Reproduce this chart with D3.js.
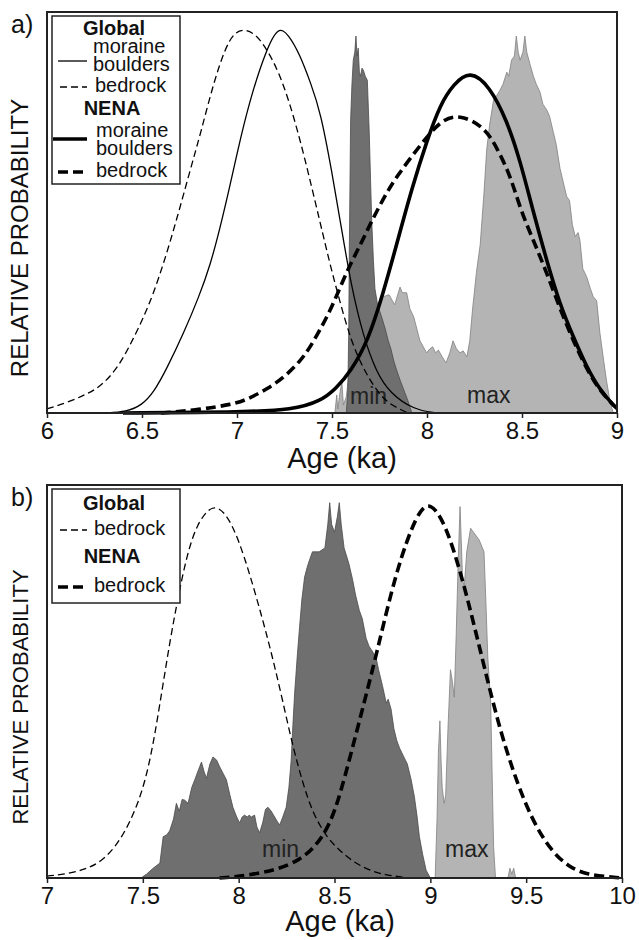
<!DOCTYPE html>
<html>
<head>
<meta charset="utf-8">
<script src="https://cdn.jsdelivr.net/npm/d3@7"></script>
<style>
  body { margin: 0; background: #fff; }
  svg { display: block; font-family: "Liberation Sans", Arial, Helvetica, sans-serif; }
</style>
</head>
<body>
<svg id="chart" width="639" height="940"></svg>
<script>
// ---- panel a) : age (ka) vs relative probability ----
const ticksA = [6, 6.5, 7, 7.5, 8, 8.5, 9];

// Global moraine boulders (thin solid)
const aGlobalBoulders = [[6.3,0],[6.42,0.003],[6.5,0.02],[6.56,0.05],[6.63,0.11],[6.72,0.2],[6.8,0.29],[6.86,0.37],
  [6.91,0.46],[6.96,0.56],[7.02,0.69],[7.08,0.8],[7.15,0.9],[7.215,0.965],[7.27,0.945],[7.33,0.895],[7.39,0.82],
  [7.44,0.75],[7.5,0.6],[7.55,0.46],[7.6,0.32],[7.665,0.19],[7.735,0.1],[7.805,0.05],[7.93,0.008],[8.05,0]];
// Global bedrock (thin dashed)
const aGlobalBedrock = [[6.0,0.01],[6.1,0.025],[6.2,0.045],[6.28,0.065],[6.37,0.11],[6.45,0.18],[6.56,0.29],
  [6.67,0.46],[6.75,0.6],[6.81,0.7],[6.88,0.83],[6.96,0.94],[7.03,0.96],[7.1,0.945],[7.16,0.905],[7.22,0.85],
  [7.28,0.77],[7.35,0.65],[7.44,0.47],[7.49,0.37],[7.54,0.28],[7.6,0.18],[7.665,0.11],[7.735,0.055],[7.8,0.022],[7.9,0]];
// NENA moraine boulders (thick solid)
const aNenaBoulders = [[6.4,0],[7.0,0.002],[7.3,0.008],[7.44,0.03],[7.52,0.06],[7.6,0.105],[7.69,0.18],[7.77,0.3],
  [7.84,0.42],[7.92,0.56],[8.0,0.68],[8.07,0.77],[8.14,0.82],[8.226,0.855],[8.33,0.815],[8.42,0.73],[8.49,0.63],
  [8.56,0.5],[8.63,0.38],[8.7,0.27],[8.77,0.19],[8.84,0.115],[8.91,0.057],[8.99,0.015],[9.0,0.012]];
// NENA bedrock (thick dashed)
const aNenaBedrock = [[6.6,0],[6.8,0.008],[6.98,0.022],[7.05,0.033],[7.16,0.06],[7.25,0.09],[7.33,0.128],[7.38,0.16],
  [7.44,0.21],[7.49,0.255],[7.54,0.31],[7.595,0.37],[7.65,0.42],[7.7,0.47],[7.77,0.535],[7.84,0.59],[7.96,0.665],
  [8.07,0.73],[8.17,0.745],[8.3,0.715],[8.37,0.66],[8.44,0.59],[8.49,0.51],[8.56,0.43],
  [8.63,0.35],[8.7,0.26],[8.77,0.18],[8.84,0.11],[8.91,0.055],[8.99,0.015],[9.0,0.012]];
// minimum-age distribution (dark grey)
const aMin = [[7.575,0],[7.583,0.05],[7.588,0.2],[7.591,0.4],[7.598,0.73],[7.605,0.82],[7.612,0.88],[7.62,0.9],
  [7.626,0.94],[7.632,0.89],[7.638,0.91],[7.644,0.85],[7.65,0.84],[7.658,0.86],[7.665,0.855],[7.675,0.84],
  [7.686,0.83],[7.696,0.7],[7.703,0.58],[7.709,0.48],[7.718,0.38],[7.726,0.31],[7.74,0.27],[7.761,0.24],
  [7.78,0.21],[7.796,0.18],[7.81,0.16],[7.825,0.13],[7.84,0.107],[7.86,0.08],[7.884,0.05],[7.9,0.03],[7.92,0]];
// maximum-age distribution (light grey)
const aMax = [[7.49,0],[7.515,0],[7.525,0.045],[7.53,0.01],[7.545,0.06],[7.552,0.075],[7.56,0.02],[7.575,0.04],
  [7.59,0.1],[7.62,0.2],[7.66,0.24],[7.7,0.26],[7.74,0.27],[7.77,0.29],[7.8,0.295],[7.83,0.27],[7.858,0.314],
  [7.87,0.3],[7.893,0.3],[7.91,0.26],[7.93,0.24],[7.963,0.18],[7.998,0.15],[8.015,0.16],[8.03,0.165],[8.045,0.15],
  [8.06,0.157],[8.08,0.14],[8.1,0.125],[8.12,0.15],[8.137,0.18],[8.155,0.16],[8.174,0.15],[8.19,0.155],[8.21,0.14],
  [8.225,0.18],[8.24,0.26],[8.26,0.35],[8.28,0.42],[8.3,0.55],[8.314,0.656],[8.33,0.72],[8.35,0.78],[8.365,0.79],
  [8.384,0.805],[8.4,0.82],[8.42,0.85],[8.43,0.84],[8.445,0.88],[8.46,0.89],[8.47,0.94],[8.48,0.9],[8.49,0.88],
  [8.505,0.9],[8.515,0.94],[8.525,0.9],[8.542,0.87],[8.56,0.84],[8.575,0.82],[8.595,0.8],[8.61,0.77],[8.63,0.756],
  [8.645,0.74],[8.665,0.7],[8.68,0.67],[8.7,0.61],[8.72,0.57],[8.735,0.54],[8.75,0.53],[8.765,0.47],[8.78,0.44],
  [8.795,0.45],[8.805,0.43],[8.82,0.36],[8.84,0.34],[8.86,0.31],[8.875,0.29],[8.893,0.28],[8.91,0.2],[8.93,0.13],
  [8.945,0.08],[8.963,0.03],[8.98,0]];

// ---- panel b) ----
const ticksB = [7, 7.5, 8, 8.5, 9, 9.5, 10];

const bGlobalBedrock = [[7.0,0.005],[7.1,0.01],[7.2,0.022],[7.28,0.04],[7.38,0.09],[7.48,0.19],[7.54,0.3],[7.59,0.445],
  [7.64,0.6],[7.69,0.73],[7.73,0.82],[7.78,0.9],[7.865,0.955],[7.94,0.925],[8.0,0.86],[8.057,0.775],[8.127,0.655],
  [8.18,0.555],[8.23,0.45],[8.28,0.34],[8.335,0.24],[8.387,0.165],[8.457,0.105],[8.526,0.07],[8.6,0.04],[8.7,0.015],
  [8.8,0.005],[8.9,0]];
const bNenaBedrock = [[7.9,0],[8.0,0.003],[8.2,0.02],[8.32,0.046],[8.4,0.08],[8.47,0.13],[8.53,0.21],[8.63,0.4],
  [8.72,0.57],[8.82,0.78],[8.93,0.93],[9.0,0.96],[9.08,0.9],[9.17,0.76],[9.27,0.56],[9.36,0.38],[9.46,0.23],
  [9.55,0.13],[9.64,0.064],[9.72,0.03],[9.81,0.008],[10.0,0]];
const bMin = [[7.49,0],[7.52,0.01],[7.554,0.025],[7.589,0.038],[7.606,0.105],[7.625,0.11],[7.64,0.12],[7.66,0.15],
  [7.675,0.19],[7.69,0.17],[7.705,0.2],[7.719,0.198],[7.736,0.19],[7.755,0.23],[7.771,0.25],[7.79,0.275],[7.806,0.295],
  [7.82,0.27],[7.832,0.254],[7.85,0.29],[7.866,0.308],[7.885,0.3],[7.901,0.283],[7.92,0.265],[7.936,0.25],[7.955,0.21],
  [7.97,0.18],[7.99,0.155],[8.005,0.14],[8.018,0.155],[8.031,0.16],[8.045,0.155],[8.055,0.16],[8.066,0.155],[8.083,0.16],
  [8.095,0.13],[8.109,0.115],[8.125,0.14],[8.14,0.175],[8.153,0.18],[8.17,0.17],[8.188,0.155],[8.2,0.145],[8.214,0.135],
  [8.23,0.155],[8.248,0.18],[8.262,0.23],[8.274,0.3],[8.283,0.39],[8.292,0.47],[8.305,0.56],[8.318,0.64],[8.33,0.71],
  [8.344,0.766],[8.357,0.79],[8.37,0.81],[8.385,0.83],[8.42,0.83],[8.45,0.84],[8.465,0.9],[8.475,0.955],[8.485,0.9],
  [8.5,0.88],[8.515,0.92],[8.525,0.955],[8.535,0.9],[8.55,0.84],[8.575,0.8],[8.594,0.76],[8.61,0.72],[8.63,0.68],
  [8.645,0.66],[8.665,0.61],[8.68,0.59],[8.7,0.575],[8.717,0.56],[8.73,0.53],[8.75,0.49],[8.77,0.445],[8.78,0.455],
  [8.795,0.43],[8.81,0.38],[8.825,0.35],[8.84,0.33],[8.86,0.31],[8.88,0.29],[8.9,0.25],[8.917,0.206],[8.93,0.16],
  [8.943,0.105],[8.96,0.06],[8.978,0.02],[9.0,0]];
const bMax = [[9.025,0],[9.035,0.15],[9.042,0.32],[9.05,0.4],[9.056,0.3],[9.062,0.23],[9.072,0.19],[9.08,0.21],
  [9.092,0.38],[9.105,0.53],[9.115,0.5],[9.125,0.46],[9.135,0.62],[9.145,0.8],[9.155,0.945],[9.162,0.85],
  [9.168,0.76],[9.177,0.74],[9.19,0.83],[9.21,0.89],[9.225,0.88],[9.24,0.87],[9.255,0.86],[9.28,0.83],[9.29,0.7],
  [9.3,0.56],[9.315,0.445],[9.325,0.2],[9.33,0.08],[9.34,0]];
const bMaxBlip = [[9.405,0],[9.415,0.025],[9.425,0.01],[9.435,0.025],[9.445,0]];

const svg = d3.select("#chart");

// line styles
const styles = {
  thinSolid:  { w: 1.3, dash: null },
  thinDash:   { w: 1.3, dash: "7,4" },
  thickSolid: { w: 3.6, dash: null },
  thickDash:  { w: 3.6, dash: "10,5" }
};

/*
Functionality: draws one panel (frame, shaded distributions, curves, axis, labels)
*/
function drawPanel(p) {
  const x = d3.scaleLinear().domain(p.domain).range([p.left, p.right]);
  const y = d3.scaleLinear().domain([0, 1]).range([p.bottom, p.top]);
  const g = svg.append("g");

  const area = d3.area().x(d => x(d[0])).y0(y(0)).y1(d => y(d[1]));
  const line = d3.line().x(d => x(d[0])).y(d => y(d[1])).curve(d3.curveBasis);

  p.fills.forEach(f => {
    g.append("path").datum(f.data).attr("d", area)
      .attr("fill", f.fill).attr("stroke", f.stroke).attr("stroke-width", 0.8);
  });

  p.labels.forEach(l => {
    g.append("text").attr("x", l.x).attr("y", l.y).attr("font-size", 23)
      .attr("fill", "#222").text(l.text);
  });

  p.curves.forEach(c => {
    const s = styles[c.style];
    g.append("path").datum(c.data).attr("d", line)
      .attr("fill", "none").attr("stroke", "#000")
      .attr("stroke-width", s.w).attr("stroke-dasharray", s.dash);
  });

  // frame
  g.append("rect").attr("x", p.left).attr("y", p.top)
    .attr("width", p.right - p.left).attr("height", p.bottom - p.top)
    .attr("fill", "none").attr("stroke", "#222").attr("stroke-width", 2);

  // x axis
  const ax = g.append("g").attr("transform", `translate(0,${p.bottom})`)
    .call(d3.axisBottom(x).tickValues(p.ticks).tickSize(5).tickPadding(4).tickFormat(d => String(d)));
  ax.select(".domain").remove();
  ax.selectAll(".tick line").attr("stroke", "#222").attr("stroke-width", 1.5);
  ax.selectAll(".tick text").attr("font-size", 24).attr("fill", "#111")
    .attr("font-family", "Liberation Sans, Arial, sans-serif");

  g.append("text").attr("x", p.xTitleX).attr("y", p.xTitleY).attr("text-anchor", "middle")
    .attr("font-size", 29).attr("fill", "#111").text("Age (ka)");

  g.append("text").attr("transform", `translate(28,${p.yTitleY}) rotate(-90)`)
    .attr("text-anchor", "middle").attr("font-size", p.yTitleSize).attr("fill", "#111")
    .text("RELATIVE PROBABILITY");

  g.append("text").attr("x", 11).attr("y", p.top + 21).attr("font-size", 25)
    .attr("fill", "#111").text(p.tag);

  // legend: box, line samples, then one multi-line text block
  const lg = g.append("g");
  lg.append("rect").attr("x", 52).attr("y", p.top + 4).attr("width", 128).attr("height", p.legendH)
    .attr("fill", "#fff").attr("stroke", "#222").attr("stroke-width", 1.5);
  const txt = lg.append("text").attr("font-size", 20).attr("fill", "#111");
  p.legend.forEach(e => {
    if (e.bold) {
      txt.append("tspan").attr("x", e.x).attr("y", p.top + e.dy).attr("text-anchor", "middle")
        .attr("font-weight", "bold").text(e.text);
      return;
    }
    e.lines.forEach((t, i) => {
      txt.append("tspan").attr("x", e.x).attr("y", p.top + e.dy + i * 18)
        .attr("text-anchor", "start").text(t);
    });
    const s = styles[e.style];
    lg.append("line").attr("x1", e.x1).attr("x2", 87)
      .attr("y1", p.top + e.sy).attr("y2", p.top + e.sy)
      .attr("stroke", "#000").attr("stroke-width", s.w).attr("stroke-dasharray", s.dash);
  });
}

const darkGrey = "#6f6f6f", lightGrey = "#b4b4b4";

drawPanel({
  tag: "a)", domain: [6, 9], ticks: ticksA,
  left: 47, right: 617, top: 12, bottom: 413,
  xTitleX: 342, xTitleY: 468, yTitleY: 238, yTitleSize: 24,
  fills: [
    { data: aMax, fill: lightGrey, stroke: "#808080" },
    { data: aMin, fill: darkGrey, stroke: "#4a4a4a" }
  ],
  labels: [{ text: "min", x: 350, y: 404 }, { text: "max", x: 467, y: 403 }],
  curves: [
    { data: aGlobalBedrock, style: "thinDash" },
    { data: aGlobalBoulders, style: "thinSolid" },
    { data: aNenaBedrock, style: "thickDash" },
    { data: aNenaBoulders, style: "thickSolid" }
  ],
  legendH: 168,
  legend: [
    { bold: true, text: "Global", x: 114, dy: 23 },
    { lines: ["moraine", "boulders"], x: 93, dy: 41, style: "thinSolid", x1: 58, sy: 49 },
    { lines: ["bedrock"], x: 95, dy: 80, style: "thinDash", x1: 60, sy: 75 },
    { bold: true, text: "NENA", x: 112, dy: 103 },
    { lines: ["moraine", "boulders"], x: 96, dy: 125, style: "thickSolid", x1: 53, sy: 127 },
    { lines: ["bedrock"], x: 96, dy: 165, style: "thickDash", x1: 58, sy: 160 }
  ]
});

drawPanel({
  tag: "b)", domain: [7, 10], ticks: ticksB,
  left: 47, right: 622, top: 485, bottom: 878,
  xTitleX: 340, xTitleY: 931, yTitleY: 697, yTitleSize: 22,
  fills: [
    { data: bMin, fill: darkGrey, stroke: "#4a4a4a" },
    { data: bMax, fill: lightGrey, stroke: "#808080" },
    { data: bMaxBlip, fill: lightGrey, stroke: "#808080" }
  ],
  labels: [{ text: "min", x: 262, y: 857 }, { text: "max", x: 445, y: 857 }],
  curves: [
    { data: bGlobalBedrock, style: "thinDash" },
    { data: bNenaBedrock, style: "thickDash" }
  ],
  legendH: 114,
  legend: [
    { bold: true, text: "Global", x: 114, dy: 25 },
    { lines: ["bedrock"], x: 94, dy: 50, style: "thinDash", x1: 60, sy: 45 },
    { bold: true, text: "NENA", x: 112, dy: 78 },
    { lines: ["bedrock"], x: 94, dy: 107, style: "thickDash", x1: 58, sy: 102 }
  ]
});
</script>
</body>
</html>
